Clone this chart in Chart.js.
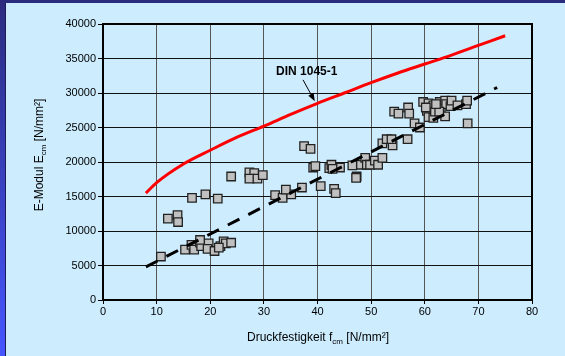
<!DOCTYPE html>
<html>
<head>
<meta charset="utf-8">
<script src="https://cdn.jsdelivr.net/npm/chart.js@4/dist/chart.umd.min.js"></script>
<style>
  html, body { margin: 0; padding: 0; }
  body {
    width: 565px; height: 356px; overflow: hidden;
    background:
      linear-gradient(#2b2b7e, #2b2b7e) 0 0 / 100% 3px no-repeat,
      linear-gradient(#1c1c5a, #1c1c5a) 5px 0 / 1px 100% no-repeat,
      linear-gradient(#2b2b7e, #4656ff) 0 0 / 5px 100% no-repeat,
      #cdedff;
  }
  #wrap { position: absolute; left: 0; top: 0; width: 565px; height: 356px; }
</style>
</head>
<body>
<div id="wrap"><canvas id="chart"></canvas></div>
<script>
// Messwerte: Druckfestigkeit fcm [N/mm²] und E-Modul Ecm [N/mm²]
const druckfestigkeit = [
  10.8, 12.1, 13.9, 14.0, 16.6, 19.1, 21.4, 23.9,
  15.3, 16.5, 17.0, 18.1, 18.3, 19.7, 19.5, 20.8, 21.9, 22.5, 22.9, 23.9, 21.6, 18.1,
  27.3, 28.2, 27.3, 28.8, 29.8,
  37.5, 38.7, 32.1, 33.5, 35.1, 34.1, 37.1, 39.2, 39.6, 40.6,
  42.2, 42.6, 43.1, 43.4, 44.2, 42.8, 46.5, 47.3, 47.2,
  48.1, 48.9, 49.2, 49.8, 50.7, 51.3, 52.1,
  52.1, 52.9, 54.0, 53.8, 56.8,
  54.3, 55.1, 56.9, 57.1, 58.1, 59.1, 59.7, 60.7, 60.4, 60.7,
  61.6, 61.6, 61.9, 62.8, 63.0, 63.8, 64.0, 63.8, 64.8, 65.0,
  66.1, 67.7, 67.9, 68.0, 62.7, 62.1, 60.2
];
const eModul = [
  6300, 11800, 12300, 11300, 14800, 15300, 14700, 17900,
  7300, 8000, 7300, 8300, 7800, 8200, 7400, 7100, 7800, 8500, 8200, 8300, 7600, 8700,
  18500, 18400, 17600, 17600, 18100,
  22300, 21900, 15200, 14800, 15300, 16000, 16300, 19200, 19400, 16500,
  19100, 19600, 16100, 15500, 19200, 19000, 19500, 17900, 17700,
  19600, 20600, 19600, 19600, 20200, 19600, 20600,
  22700, 23300, 22400, 23300, 23300,
  27300, 27000, 27900, 27000, 25600, 25000, 28700, 28500, 27400, 26500,
  28200, 26400, 27300, 28700, 27800, 28900, 28400, 26600, 28100, 28900,
  28200, 28400, 28900, 25600, 27300, 28400, 27900
];

// Kurve nach DIN 1045-1
const dinX = [8, 10, 15, 20, 25, 30, 35, 40, 45, 50, 55, 60, 65, 70, 75];
const dinY = [15500, 17000, 19700, 21700, 23600, 25200, 26900, 28500, 30000, 31500, 32900, 34200, 35500, 36900, 38300];

// Regressionsgerade (gestrichelt)
const regX = [8, 73.5];
const regY = [4800, 30800];

// Beschriftung "DIN 1045-1" mit Pfeil
const labelPos = [38.0, 33100];
const arrowFrom = [37.3, 31900];
const arrowTo = [39.5, 28800];

const FONT = "'Liberation Sans', Arial, sans-serif";

function pairs(xs, ys) {
  return xs.map((x, i) => ({ x: x, y: ys[i] }));
}

function textWithSub(ctx, parts, x, y, align) {
  // parts: [[text, isSub], ...]
  const big = "12px " + FONT, small = "8px " + FONT;
  let total = 0;
  parts.forEach(p => { ctx.font = p[1] ? small : big; total += ctx.measureText(p[0]).width; });
  let cx = align === "center" ? x - total / 2 : x;
  ctx.textAlign = "left";
  ctx.textBaseline = "middle";
  parts.forEach(p => {
    ctx.font = p[1] ? small : big;
    ctx.fillText(p[0], cx, p[1] ? y + 4 : y);
    cx += ctx.measureText(p[0]).width;
  });
}

const decor = {
  id: "decor",
  afterDraw(chart) {
    const ctx = chart.ctx;
    const sx = chart.scales.x, sy = chart.scales.y;
    const a = chart.chartArea;
    ctx.save();
    ctx.fillStyle = "#000";

    // Rahmen
    ctx.strokeStyle = "#000";
    ctx.lineWidth = 2;
    ctx.strokeRect(a.left, a.top, a.right - a.left, a.bottom - a.top);

    // Achsentitel
    textWithSub(ctx, [["Druckfestigkeit f", false], ["cm", true], [" [N/mm²]", false]], 318, 338, "center");
    ctx.save();
    ctx.translate(40, 155);
    ctx.rotate(-Math.PI / 2);
    textWithSub(ctx, [["E-Modul E", false], ["cm", true], [" [N/mm²]", false]], 0, 0, "center");
    ctx.restore();

    // DIN-Beschriftung
    ctx.font = "bold 12px " + FONT;
    ctx.textAlign = "center";
    ctx.textBaseline = "middle";
    ctx.fillText("DIN 1045-1", sx.getPixelForValue(labelPos[0]), sy.getPixelForValue(labelPos[1]));

    const x1 = sx.getPixelForValue(arrowFrom[0]), y1 = sy.getPixelForValue(arrowFrom[1]);
    const x2 = sx.getPixelForValue(arrowTo[0]), y2 = sy.getPixelForValue(arrowTo[1]);
    const ang = Math.atan2(y2 - y1, x2 - x1);
    ctx.lineWidth = 1;
    ctx.beginPath();
    ctx.moveTo(x1, y1);
    ctx.lineTo(x2 - 6 * Math.cos(ang), y2 - 6 * Math.sin(ang));
    ctx.stroke();
    ctx.beginPath();
    ctx.moveTo(x2, y2);
    ctx.lineTo(x2 - 8 * Math.cos(ang) + 3 * Math.sin(ang), y2 - 8 * Math.sin(ang) - 3 * Math.cos(ang));
    ctx.lineTo(x2 - 8 * Math.cos(ang) - 3 * Math.sin(ang), y2 - 8 * Math.sin(ang) + 3 * Math.cos(ang));
    ctx.closePath();
    ctx.fill();
    ctx.restore();
  }
};

new Chart(document.getElementById("chart"), {
  type: "scatter",
  data: {
    datasets: [
      {
        label: "Regression",
        data: pairs(regX, regY),
        showLine: true,
        borderColor: "#000",
        borderWidth: 3,
        borderDash: [13, 10],
        pointRadius: 0,
        order: 0
      },
      {
        label: "DIN 1045-1",
        data: pairs(dinX, dinY),
        showLine: true,
        borderColor: "#ff0000",
        borderWidth: 3,
        tension: 0.4,
        cubicInterpolationMode: "monotone",
        pointRadius: 0,
        order: 1
      },
      {
        label: "Versuche",
        data: pairs(druckfestigkeit, eModul),
        pointStyle: "rect",
        pointRadius: 6,
        backgroundColor: "#c0c0c0",
        borderColor: "#222",
        borderWidth: 1.3,
        order: 2
      }
    ]
  },
  options: {
    responsive: true,
    maintainAspectRatio: false,
    animation: false,
    layout: { padding: { top: 24, right: 33, left: 0, bottom: 0 } },
    plugins: { legend: { display: false }, tooltip: { enabled: false } },
    scales: {
      x: {
        type: "linear",
        min: 0, max: 80,
        afterFit: s => { s.height = 56; },
        ticks: { stepSize: 10, color: "#000", font: { family: FONT, size: 11 }, padding: 1, maxRotation: 0,
                 callback: v => String(v) },
        grid: { color: "#555", lineWidth: 1, tickLength: 4, tickColor: "#000" },
        border: { color: "#000", width: 2 }
      },
      y: {
        min: 0, max: 40000,
        afterFit: s => { s.width = 103; },
        ticks: { stepSize: 5000, color: "#000", font: { family: FONT, size: 11 }, padding: 2,
                 callback: v => String(v) },
        grid: { color: "#111", lineWidth: 1, tickLength: 5, tickColor: "#000" },
        border: { color: "#000", width: 2 }
      }
    }
  },
  plugins: [decor]
});
</script>
</body>
</html>
